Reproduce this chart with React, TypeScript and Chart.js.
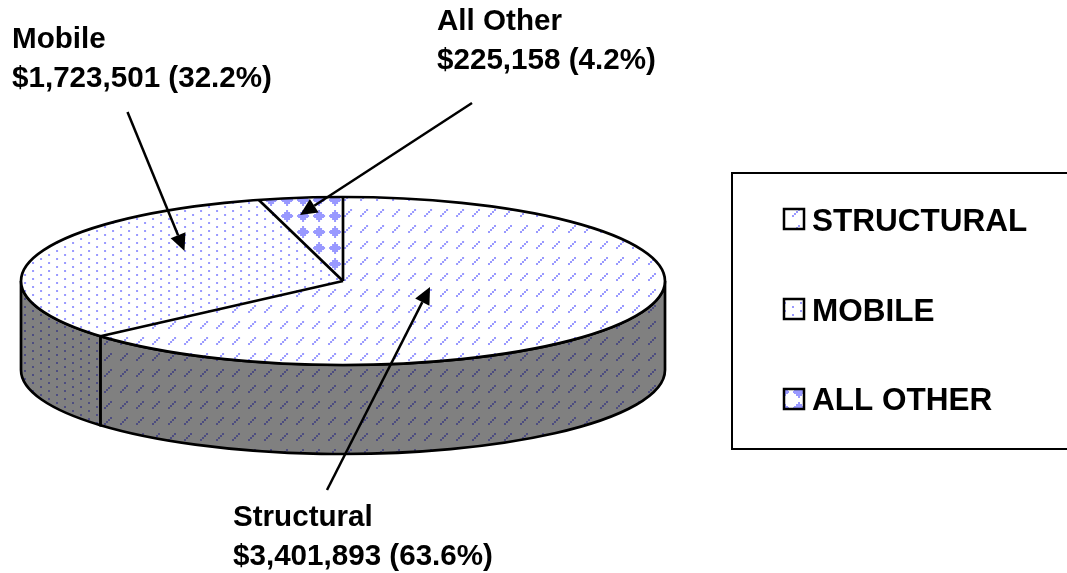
import React, { useEffect, useRef } from "react";
import { Chart, registerables } from "chart.js";

Chart.register(...registerables);

const categories = ["Structural", "Mobile", "All Other"];
const legendLabels = ["STRUCTURAL", "MOBILE", "ALL OTHER"];
const amounts = [3401893, 1723501, 225158];
const amountLabels = ["$3,401,893 (63.6%)", "$1,723,501 (32.2%)", "$225,158 (4.2%)"];

const W = 1067;
const H = 573;
const CX = 343;
const CY = 281;
const RX = 322;
const RY = 84;
const DEPTH = 89;
const SX = RX / RY;
const LINE = 2.7;
const FONT = '"Liberation Sans", Arial, sans-serif';

type Kind = "dash" | "dots" | "diamond";
const kinds: Kind[] = ["dash", "dots", "diamond"];
const diamondRows = [2, 2, 6, 6, 10, 12, 12, 10, 6, 6, 2, 2];

function makeTile(kind: Kind, bg: string, fg: string) {
  const c = document.createElement("canvas");
  c.width = 16;
  c.height = 16;
  const g = c.getContext("2d")!;
  g.fillStyle = bg;
  g.fillRect(0, 0, 16, 16);
  g.fillStyle = fg;
  if (kind === "dash") {
    g.fillRect(8, 7, 2, 2);
    g.fillRect(10, 5, 2, 2);
    g.fillRect(12, 3, 2, 2);
    g.fillRect(14, 1, 2, 2);
  } else if (kind === "dots") {
    [6, 14].forEach((y) => g.fillRect(0, y, 2, 2));
    [2, 10].forEach((y) => g.fillRect(8, y, 2, 2));
  } else {
    diamondRows.forEach((w, row) => {
      for (let k = 0; k < w; k++) {
        g.fillRect((15 - w / 2 + k + 16) % 16, (2 + row) % 16, 1, 1);
      }
    });
  }
  return c;
}

function leader(ctx: CanvasRenderingContext2D, x0: number, y0: number, x1: number, y1: number) {
  const a = Math.atan2(y1 - y0, x1 - x0);
  const len = 17;
  const hw = 8;
  const bx = x1 - Math.cos(a) * len;
  const by = y1 - Math.sin(a) * len;
  ctx.strokeStyle = "#000";
  ctx.fillStyle = "#000";
  ctx.lineWidth = 2.5;
  ctx.beginPath();
  ctx.moveTo(x0, y0);
  ctx.lineTo(bx, by);
  ctx.stroke();
  ctx.beginPath();
  ctx.moveTo(x1, y1);
  ctx.lineTo(bx - Math.sin(a) * hw, by + Math.cos(a) * hw);
  ctx.lineTo(bx + Math.sin(a) * hw, by - Math.cos(a) * hw);
  ctx.closePath();
  ctx.fill();
}

export default function App() {
  const ref = useRef<HTMLCanvasElement>(null);

  useEffect(() => {
    const canvas = ref.current!;
    const ctx0 = canvas.getContext("2d")!;
    const topPatterns = kinds.map((k) => ctx0.createPattern(makeTile(k, "#ffffff", "#9999ff"), "repeat")!);
    const sidePatterns = kinds.map((k) => ctx0.createPattern(makeTile(k, "#808080", "#4d4d80"), "repeat")!);
    const keyPatterns = kinds.map((k) => ctx0.createPattern(makeTile(k, "#ffffff", "#9999ff"), "repeat")!);

    const pie3d = {
      id: "pie3d",
      beforeDatasetsDraw(chart: any) {
        const ctx: CanvasRenderingContext2D = chart.ctx;
        const arcs = chart.getDatasetMeta(0).data;
        const cx = arcs[0].x;
        const cy = arcs[0].y;
        const r = arcs[0].outerRadius;
        // front wall of the disc, one band per slice that faces the viewer
        arcs.forEach((arc: any, i: number) => {
          const a0 = Math.max(arc.startAngle, 0);
          const a1 = Math.min(arc.endAngle, Math.PI);
          if (a1 <= a0) return;
          ctx.beginPath();
          ctx.ellipse(cx, cy, r * SX, r, 0, a0, a1);
          ctx.ellipse(cx, cy + DEPTH, r * SX, r, 0, a1, a0, true);
          ctx.closePath();
          ctx.fillStyle = sidePatterns[i];
          ctx.fill();
          ctx.strokeStyle = "#000";
          ctx.lineWidth = LINE;
          ctx.stroke();
        });
        // stretch the library's circular pie into the top ellipse
        ctx.save();
        const m = new DOMMatrix().translate(cx, 0).scale(1 / SX, 1).translate(-cx, 0);
        topPatterns.forEach((p) => p.setTransform(m));
        ctx.translate(cx, 0);
        ctx.scale(SX, 1);
        ctx.translate(-cx, 0);
      },
      afterDatasetsDraw(chart: any) {
        const ctx: CanvasRenderingContext2D = chart.ctx;
        ctx.restore();
        const arcs = chart.getDatasetMeta(0).data;
        const cx = arcs[0].x;
        const cy = arcs[0].y;
        const r = arcs[0].outerRadius;
        ctx.strokeStyle = "#000";
        ctx.lineWidth = LINE;
        ctx.beginPath();
        ctx.ellipse(cx, cy, r * SX, r, 0, 0, Math.PI * 2);
        ctx.stroke();
        arcs.forEach((arc: any) => {
          ctx.beginPath();
          ctx.moveTo(cx, cy);
          ctx.lineTo(cx + Math.cos(arc.startAngle) * r * SX, cy + Math.sin(arc.startAngle) * r);
          ctx.stroke();
        });

        // leader lines
        leader(ctx, 127.5, 112, 184.5, 251);
        leader(ctx, 472, 103, 300, 215);
        leader(ctx, 327, 490, 430, 287);

        // slice labels
        ctx.fillStyle = "#000";
        ctx.textBaseline = "alphabetic";
        ctx.textAlign = "left";
        ctx.font = `bold 29.6px ${FONT}`;
        const spots = [
          [233, 526, 565],
          [12, 48, 87],
          [437, 30, 69],
        ];
        categories.forEach((name, i) => {
          ctx.fillText(name, spots[i][0], spots[i][1]);
          ctx.fillText(amountLabels[i], spots[i][0], spots[i][2]);
        });

        // legend
        ctx.strokeStyle = "#000";
        ctx.lineWidth = 2;
        ctx.strokeRect(732, 173, 360, 276);
        ctx.font = `bold 31.5px ${FONT}`;
        const rows = [219, 309, 399];
        const baselines = [231, 321, 410];
        legendLabels.forEach((label, i) => {
          const y = rows[i];
          ctx.fillStyle = keyPatterns[i];
          ctx.fillRect(784, y - 10, 20, 20);
          ctx.strokeStyle = "#000";
          ctx.lineWidth = 2.5;
          ctx.strokeRect(784, y - 10, 20, 20);
          ctx.fillStyle = "#000";
          ctx.fillText(label, 812, baselines[i]);
        });
      },
    };

    const chart = new Chart(canvas, {
      type: "pie",
      data: {
        labels: categories,
        datasets: [
          {
            data: amounts,
            backgroundColor: topPatterns,
            borderWidth: 0,
            clip: false,
          } as any,
        ],
      },
      options: {
        responsive: false,
        animation: false,
        devicePixelRatio: 1,
        events: [],
        layout: {
          padding: { left: CX - RX, right: W - CX - RX, top: CY - RY, bottom: H - CY - RY },
        },
        plugins: { legend: { display: false }, tooltip: { enabled: false }, title: { display: false } },
      },
      plugins: [
        {
          id: "paper",
          beforeDraw(c: any) {
            c.ctx.save();
            c.ctx.fillStyle = "#fff";
            c.ctx.fillRect(0, 0, W, H);
            c.ctx.restore();
          },
        },
        pie3d,
      ],
    });
    return () => chart.destroy();
  }, []);

  return (
    <div style={{ position: "fixed", left: 0, top: 0, width: W, height: H, overflow: "hidden", background: "#fff" }}>
      <canvas ref={ref} width={W} height={H} style={{ display: "block", width: W, height: H }} />
    </div>
  );
}
